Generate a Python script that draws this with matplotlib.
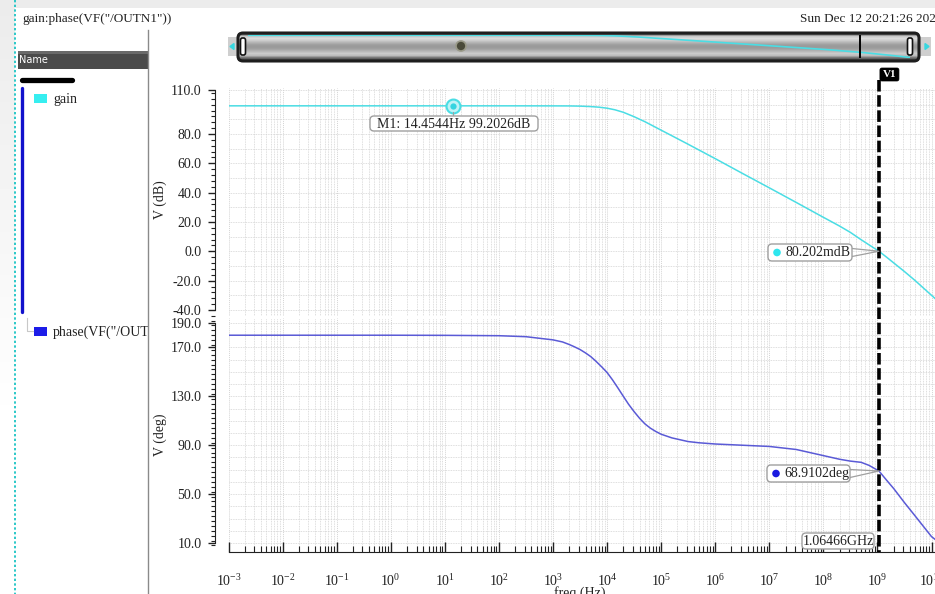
import numpy as np
import matplotlib
matplotlib.use("Agg")
import matplotlib.pyplot as plt
from matplotlib.ticker import FixedLocator, MultipleLocator, LogLocator, LogFormatterMathtext, NullFormatter
from matplotlib.patches import Rectangle, FancyBboxPatch, Circle, Polygon

# ---------------- data ----------------
gain_freq_hz = [1e-3, 1e-2, 1e-1, 1e0, 1e1, 1e2, 3.16e2, 1e3, 2e3, 3.16e3, 5e3, 7e3,
                1e4, 1.4e4, 2e4, 3.16e4, 5e4, 7e4, 1e5, 1.6e5, 3.16e5, 1e6, 3.16e6,
                1e7, 3.16e7, 1e8, 2e8, 3.16e8, 5e8, 7e8, 1.06466e9, 1.5e9, 2e9,
                3.16e9, 5e9, 1e10, 1.2e10]
gain_db = [99.20, 99.20, 99.20, 99.20, 99.20, 99.20, 99.19, 99.17, 99.13, 99.0, 98.7, 98.3,
           97.6, 96.5, 94.8, 91.8, 88.4, 85.6, 82.6, 78.7, 73.0, 63.2, 53.2,
           43.3, 33.3, 23.2, 17.2, 12.9, 7.9, 4.4, 0.08, -4.2, -7.9,
           -13.8, -20.0, -30.0, -32.6]

phase_freq_hz = [1e-3, 1e-2, 1e-1, 1e0, 1e1, 1e2, 3.16e2, 1e3, 1.5e3, 2e3, 2.5e3, 3.16e3,
                 4e3, 5e3, 6.3e3, 8e3, 1e4, 1.26e4, 1.58e4, 2e4, 2.5e4, 3.16e4, 4e4,
                 5e4, 6.3e4, 8e4, 1e5, 1.58e5, 2.5e5, 3.16e5, 5e5, 1e6, 3.16e6, 1e7,
                 3.16e7, 1e8, 2e8, 3.16e8, 5e8, 7e8, 1.06466e9, 1.5e9, 2e9, 3.16e9,
                 5e9, 1e10, 1.2e10]
phase_deg = [180.0, 180.0, 180.0, 180.0, 179.9, 179.6, 178.8, 176.2, 174.5, 172.4, 170.5, 168.3,
             165.5, 162.5, 158.5, 154.0, 149.5, 143.5, 137.0, 130.0, 123.5, 117.5, 112.0,
             107.5, 104.0, 101.2, 99.0, 96.0, 94.0, 93.0, 92.0, 91.0, 90.0, 89.0,
             86.5, 81.5, 78.5, 77.0, 76.0, 73.5, 68.91, 61.0, 54.5, 43.0,
             32.0, 15.2, 12.5]

m1_freq, m1_gain = 14.4544, 99.2026
v1_freq = 1.06466e9
v1_gain_db = 0.080202
v1_phase_deg = 68.9102

gain_yticks = [-40, -20, 0, 20, 40, 60, 80, 110]
phase_yticks = [10, 50, 90, 130, 170, 190]

title_text = 'gain:phase(VF("/OUTN1"))'
date_text = 'Sun Dec 12 20:21:26 2021'
legend_names = ['gain', 'phase(VF("/OUTN1"))']
m1_label = 'M1: 14.4544Hz 99.2026dB'
gain_label = '80.202mdB'
phase_label = '68.9102deg'
freq_label = '1.06466GHz'

# ---------------- style ----------------
W, H = 935, 594
plt.rcParams['font.family'] = ['Liberation Serif', 'DejaVu Serif']
plt.rcParams['mathtext.fontset'] = 'custom'
plt.rcParams['mathtext.rm'] = 'Liberation Serif'
plt.rcParams['mathtext.it'] = 'Liberation Serif:italic'
plt.rcParams['mathtext.bf'] = 'Liberation Serif:bold'

GAIN_C = '#4adde4'
PHASE_C = '#5a5ad6'
TXT = '#222222'
GRID_C = '#d4d4d4'

fig = plt.figure(figsize=(W / 100, H / 100), dpi=100)
fig.patch.set_facecolor('white')


def fr(x0, y0, x1, y1):
    return [x0 / W, 1 - y1 / H, (x1 - x0) / W, (y1 - y0) / H]


# faint background shading at the left edge
bg = fig.add_axes(fr(0, 8, 14.5, 430))
shade = np.linspace(0.925, 1.0, 60)[:, None] * np.ones((60, 4))
bg.imshow(shade, cmap='gray', vmin=0, vmax=1, aspect='auto', extent=[0, 1, 0, 1],
          interpolation='bilinear', origin='upper')
bg.axis('off')

ppx = 54.08  # pixels per decade
x_left = 228.5
xmin = 1e-3
xmax = 10 ** (-3 + (W - x_left) / ppx)

ax_g = fig.add_axes(fr(x_left, 88, W, 316))
ax_p = fig.add_axes(fr(x_left, 318, W, 548))

g_scale = 220 / 150.0
p_scale = 220 / 180.0
ax_g.set_ylim(-40 - 6 / g_scale, 110 + 2 / g_scale)
ax_p.set_ylim(10 - 5 / p_scale, 190 + 5 / p_scale)

for ax in (ax_g, ax_p):
    ax.set_xscale('log')
    ax.set_xlim(xmin, xmax)
    ax.patch.set_visible(False)
    for s in ('top', 'right', 'bottom'):
        ax.spines[s].set_visible(False)
    ax.spines['left'].set_position(('outward', 9.4))
    ax.spines['left'].set_color(TXT)
    ax.tick_params(axis='y', which='major', direction='out', length=5, width=1,
                   color=TXT, labelcolor=TXT, labelsize=10, pad=5)
    ax.tick_params(axis='y', which='minor', direction='out', length=2.8, width=0.8, color=TXT)
    for k in range(-3, 11):
        for m in range(1, 10):
            v = m * 10.0 ** k
            if xmin <= v <= xmax:
                ax.axvline(v, color=GRID_C, lw=0.7 if m == 1 else 0.6,
                           ls=(0, (1, 1)), zorder=0)

ax_g.spines['left'].set_bounds(-40, 110)
ax_g.yaxis.set_major_locator(FixedLocator(gain_yticks))
ax_g.yaxis.set_major_formatter(plt.FuncFormatter(lambda v, p: f'{v:.1f}'))
ax_g.yaxis.set_minor_locator(MultipleLocator(4))
for yv in np.arange(-40, 111, 10):
    ax_g.axhline(yv, color=GRID_C, lw=0.6, ls=(0, (1, 1)), zorder=0)
ax_g.tick_params(axis='x', which='both', bottom=False, labelbottom=False)

ax_p.spines['left'].set_bounds(10, 190)
ax_p.yaxis.set_major_locator(FixedLocator(phase_yticks))
ax_p.yaxis.set_major_formatter(plt.FuncFormatter(lambda v, p: f'{v:.1f}'))
ax_p.yaxis.set_minor_locator(MultipleLocator(4))
for yv in np.arange(10, 191, 10):
    ax_p.axhline(yv, color=GRID_C, lw=0.6, ls=(0, (1, 1)), zorder=0)

ax_p.spines['bottom'].set_visible(True)
ax_p.spines['bottom'].set_position(('outward', 2.9))
ax_p.spines['bottom'].set_color(TXT)
ax_p.xaxis.set_major_locator(LogLocator(base=10, numticks=30))
ax_p.xaxis.set_minor_locator(LogLocator(base=10, subs=np.arange(2, 10), numticks=30))
ax_p.xaxis.set_major_formatter(LogFormatterMathtext())
ax_p.xaxis.set_minor_formatter(NullFormatter())
ax_p.tick_params(axis='x', which='major', direction='in', length=7.2, width=1,
                 color=TXT, labelcolor=TXT, labelsize=10, pad=15)
ax_p.tick_params(axis='x', which='minor', direction='in', length=4.3, width=0.8, color=TXT)

# curves
ax_g.plot(gain_freq_hz, gain_db, color=GAIN_C, lw=1.1, zorder=3)
ax_p.plot(phase_freq_hz, phase_deg, color=PHASE_C, lw=1.1, zorder=3)

# M1 marker
ax_g.plot([m1_freq], [m1_gain], 'o', ms=10, mfc='#bff3f6', mec=GAIN_C, mew=1.5, zorder=5)
ax_g.plot([m1_freq], [m1_gain], 'o', ms=4.5, mfc='#35d4e0', mec='none', zorder=6)

# ---------------- overlay in pixel coordinates ----------------
ov = fig.add_axes([0, 0, 1, 1])
ov.set_xlim(0, W)
ov.set_ylim(H, 0)
ov.axis('off')
ov.patch.set_visible(False)
ov.set_zorder(10)


def to_px(ax, x, y):
    d = ax.transData.transform((x, y))
    return ov.transData.inverted().transform(d)


ov.add_patch(Rectangle((0, 0), W, 8, color='#ececec', lw=0, zorder=0))
ov.plot([15, 15], [0, H], color='#2cc8c8', lw=1.4, ls=(0, (1.2, 1.2)), zorder=2)

ov.text(22, 19, title_text, fontsize=9.5, color=TXT, va='center', ha='left')
ov.text(800, 19, date_text, fontsize=9.5, color=TXT, va='center', ha='left')

# left panel
ov.plot([148, 148], [30, H], color='#8a8a8a', lw=1.0)
ov.add_patch(Rectangle((18, 51), 130, 18, color='#4b4b4b', lw=0))
ov.add_patch(Rectangle((18, 51), 130, 3, color='#6a6a6a', lw=0))
ov.text(19, 60, 'Name', fontsize=7, color='white', va='center', ha='left',
        family='DejaVu Sans')
ov.plot([22, 72], [80, 80], color='black', lw=3.8, solid_capstyle='round')
ov.plot([22, 22], [88, 312], color='#1212cc', lw=2.4, solid_capstyle='round')
ov.plot([27, 27, 33], [318, 331, 331], color='#c8c8c8', lw=0.8)
ov.add_patch(Rectangle((34, 94), 13, 9, color='#36eef0', lw=0))
ov.add_patch(Rectangle((34, 327), 13, 9, color='#1c1ce8', lw=0))

lp = fig.add_axes(fr(0, 0, 148, H))
lp.set_xlim(0, 148)
lp.set_ylim(H, 0)
lp.axis('off')
lp.patch.set_visible(False)
lp.text(53, 99, legend_names[0], fontsize=10, color=TXT, va='center', clip_on=True)
lp.text(53, 332, legend_names[1], fontsize=10, color=TXT, va='center', clip_on=True)

ov.text(160, 200, 'V (dB)', rotation=90, fontsize=10, color=TXT, ha='center', va='center')
ov.text(160, 435, 'V (deg)', rotation=90, fontsize=10, color=TXT, ha='center', va='center')
ov.text(580, 586, 'freq (Hz)', fontsize=10, color=TXT, ha='center', va='top')

# scrollbar
sb = fig.add_axes(fr(238, 33, 919, 61))
grad = np.array([0.30, 0.78, 0.86, 0.80, 0.70, 0.62, 0.60, 0.64, 0.72, 0.80, 0.74, 0.45, 0.28])
sb.imshow(grad[:, None], cmap='gray', vmin=0, vmax=1, aspect='auto',
          extent=[0, 1, 0, 1], interpolation='bilinear')
sb.axis('off')
ov.add_patch(FancyBboxPatch((238, 33), 681, 28, boxstyle='round,pad=0,rounding_size=5',
                            fc='none', ec='#1e1e1e', lw=2.2, zorder=3))
ov.add_patch(Rectangle((228, 37), 10, 19, color='#cfcfcf', lw=0, zorder=2))
ov.add_patch(Rectangle((919, 37), 12, 19, color='#cfcfcf', lw=0, zorder=2))
ov.add_patch(Polygon([[230, 46.5], [234, 43.5], [234, 49.5]], closed=True, color='#38d8e0', zorder=3))
ov.add_patch(Polygon([[929, 46.5], [925, 43.5], [925, 49.5]], closed=True, color='#38d8e0', zorder=3))
for hx in (243, 910):
    ov.add_patch(FancyBboxPatch((hx - 2.5, 38), 5, 17, boxstyle='round,pad=0,rounding_size=2',
                                fc='white', ec='#111111', lw=1.2, zorder=4))
ov.add_patch(Circle((461, 46), 5, fc='#4a4a3a', ec='#999988', lw=1.2, zorder=4))

sbo = fig.add_axes(fr(248, 35, 910, 58))
sbo.set_xscale('log')
sbo.set_xlim(1e-3, 1e10)
sbo.set_ylim(-33, 101)
sbo.axis('off')
sbo.patch.set_visible(False)
sbo.plot(gain_freq_hz, gain_db, color=GAIN_C, lw=1.2)
sbo.axvline(v1_freq, color='black', lw=1.4)

# V1 cursor
xv, _ = to_px(ax_g, v1_freq, 0)
ov.plot([xv, xv], [80, 552], color='black', lw=2.6, ls=(0, (3.2, 1.0)), zorder=6)
ov.add_patch(FancyBboxPatch((xv + 1, 68), 19, 13, boxstyle='round,pad=0,rounding_size=2',
                            fc='black', ec='black', lw=0.5, zorder=7))
ov.text(xv + 10.5, 74.8, 'V1', color='white', fontsize=8, fontweight='bold',
        ha='center', va='center', zorder=8)


def label_box(x0, y0, w, h, text, tx, dot=None, tail_to=None, ha='left'):
    ov.add_patch(FancyBboxPatch((x0, y0), w, h, boxstyle='round,pad=0,rounding_size=4',
                                fc='white', ec='#a0a0a0', lw=1.0, zorder=7))
    ov.text(tx, y0 + h / 2 + 0.5, text, fontsize=10, color=TXT, ha=ha, va='center', zorder=8)
    if dot is not None:
        ov.add_patch(Circle((x0 + 9, y0 + h / 2), 3.8, color=dot, lw=0, zorder=8))
    if tail_to is not None:
        px_, py_ = tail_to
        ov.plot([x0 + w, px_, x0 + w], [y0 + h / 2 - 4, py_, y0 + h / 2 + 4],
                color='#a0a0a0', lw=0.9, zorder=6)


mx, my = to_px(ax_g, m1_freq, m1_gain)
ov.plot([mx, mx], [my + 6, 116], color='#a0a0a0', lw=0.8, zorder=6)
label_box(370, 116, 168, 15, m1_label, 454, ha='center')

gx, gy = to_px(ax_g, v1_freq, v1_gain_db)
label_box(768, 244, 84, 17, gain_label, 785, dot='#2ee6ee', tail_to=(gx, gy))
px2, py2 = to_px(ax_p, v1_freq, v1_phase_deg)
label_box(767, 465, 83, 17, phase_label, 784, dot='#1a1ae0', tail_to=(px2, py2))
label_box(802, 533, 72, 16, freq_label, 838, ha='center')

fig.savefig('out.png', dpi=100, facecolor='white')
